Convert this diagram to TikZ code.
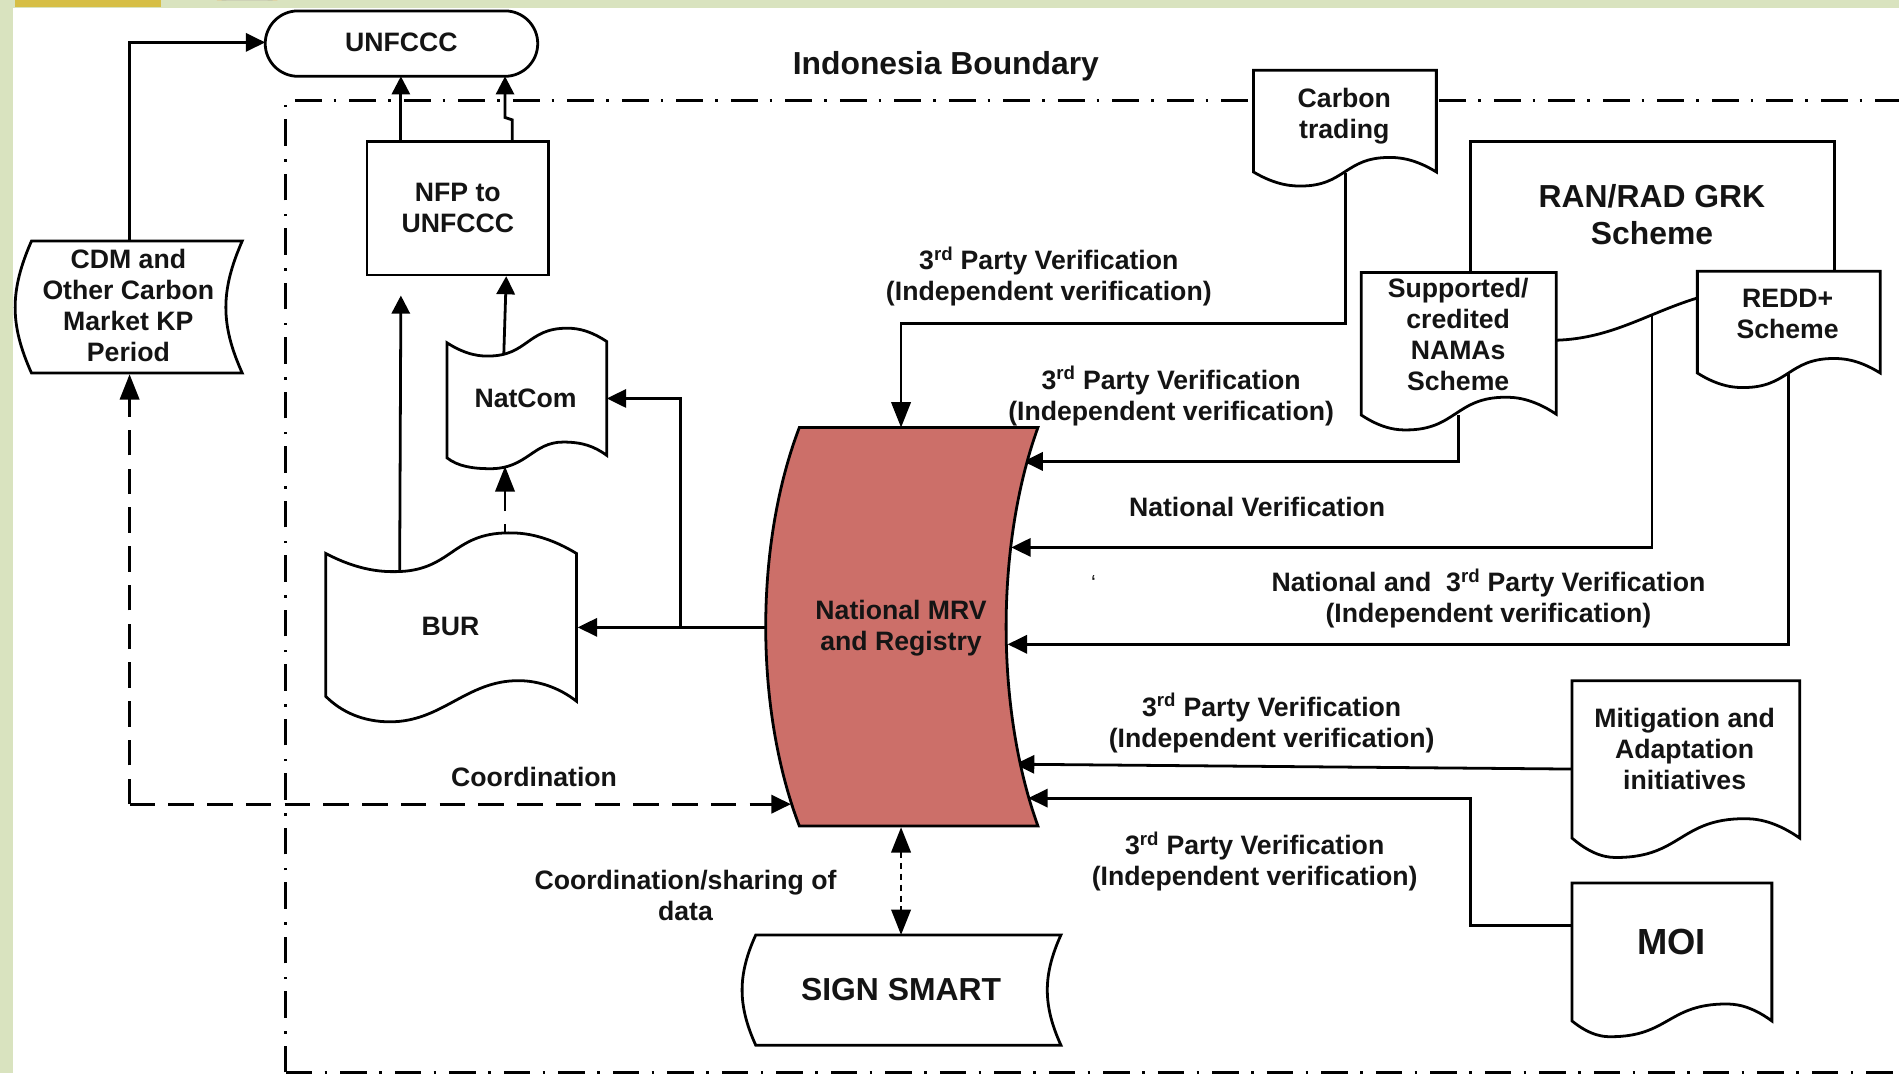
\documentclass[tikz,border=0pt]{standalone}
\usepackage{fontspec}
\setmainfont{Liberation Sans}
\usetikzlibrary{arrows.meta}
\definecolor{bgreen}{HTML}{D9E3BF}
\definecolor{mrvred}{HTML}{CC6F69}
\definecolor{logoy}{HTML}{D6BE45}
\newcommand{\wv}[8]{(#1,#2) .. controls ({#1+.5*(#3-#1)},#4) and ({#3-.15*(#3-#1)},#4) .. (#3,#4) .. controls ({#3+.5*(#5-#3)},#4) and ({#5-.5*(#5-#3)},#6) .. (#5,#6) .. controls ({#5+.15*(#7-#5)},#6) and ({#7-.5*(#7-#5)},#6) .. (#7,#8)}
\tikzset{
  lab/.style={font=\fontsize{22}{25.6}\selectfont\bfseries,align=center,inner sep=0pt,text=black!92},
  biglab/.style={font=\fontsize{26.3}{30.5}\selectfont\bfseries,align=center,inner sep=0pt,text=black!92},
  shapeline/.style={draw=black,line width=2.3pt,fill=white,line join=miter},
  conn/.style={draw=black,line width=2.3pt},
  arr/.style={conn,-{Triangle[length=16pt,width=15pt]}},
  arrshort/.style={conn,-{Triangle[length=15pt,width=15pt]}},
  arrlong/.style={conn,-{Triangle[length=21pt,width=16pt]}},
  dashconn/.style={arr,dash pattern=on 21pt off 11pt},
  dashlong/.style={arrlong,dash pattern=on 21pt off 11pt},
  dotconn/.style={conn,{Triangle[length=21pt,width=16pt]}-{Triangle[length=21pt,width=16pt]},dash pattern=on 5pt off 4pt},
  boundary/.style={draw=black,line width=2.3pt,dash pattern=on 22pt off 10pt on 2pt off 11pt}
}
\begin{document}
\begin{tikzpicture}[x=1pt,y=-1pt]
\useasboundingbox (0,0) rectangle (1568,886);
% page background
\fill[white] (0,0) rectangle (1568,886);
\fill[bgreen] (0,0) rectangle (1568,6.6);
\fill[bgreen] (0,0) rectangle (11,886);
\fill[logoy] (12.4,0) rectangle (133,5.5);
\fill[orange!85!red] (179,0) arc[start angle=180,end angle=360,x radius=25,y radius=5.6] -- cycle;
\fill[cyan!70!blue!80!white] (183,0) arc[start angle=180,end angle=360,x radius=21,y radius=4.2] -- cycle;
\fill[white] (187,0) arc[start angle=180,end angle=360,x radius=17,y radius=2.8] -- cycle;
% boundary
\draw[boundary] (236,885.5) -- (236,83) -- (1568,83);
\draw[boundary] (236,885.5) -- (1568,885.5);

% anchor points on the shapes
\coordinate (cdmTop) at (107,199);
\coordinate (cdmBot) at (107,309);
\coordinate (unfL) at (219,35);
\coordinate (cdmBend) at (107,35);
\coordinate (dashBend) at (107,664);
\coordinate (mrvDash) at (653,664);
\coordinate (unfB1) at (331,63);
\coordinate (unfB2) at (417,63);
\coordinate (nfpT1) at (331,117);
\coordinate (nfpT2) at (423,117);
\coordinate (jog1) at (423,99);
\coordinate (jog2) at (417,97);
\coordinate (nfpB) at (418,228);
\coordinate (natTop) at (416,292);
\coordinate (burTop1) at (330,472);
\coordinate (burUp) at (331,244);
\coordinate (burTop2) at (417,440);
\coordinate (natBot) at (417,385);
\coordinate (natR) at (501,329);
\coordinate (branch) at (562,518);
\coordinate (branchUp) at (562,329);
\coordinate (mrvL) at (632,518);
\coordinate (burR) at (477,518);
\coordinate (mrvT) at (744,353);
\coordinate (mrvB) at (744,683);
\coordinate (ssT) at (744,772);
\coordinate (ctOut) at (1111,143);
\coordinate (ctBend) at (744,267);
\coordinate (namaOut) at (1204,343);
\coordinate (mrv1) at (845,381);
\coordinate (ranOut) at (1364,261);
\coordinate (mrv2) at (835,452);
\coordinate (reddOut) at (1477,308);
\coordinate (mrv3) at (832,532);
\coordinate (mitL) at (1298,635);
\coordinate (mrv4) at (838,631);
\coordinate (moiL) at (1298,764);
\coordinate (moiBend) at (1214,659);
\coordinate (mrv5) at (849,659);

% connectors
\draw[arr] (cdmTop) -- (cdmBend) -- (unfL);
\draw[arrshort] (nfpT1) -- (unfB1);
\draw[arrshort] (nfpT2) -- (jog1) -- (jog2) -- (unfB2);
\draw[arrshort] (natTop) -- (nfpB);
\draw[arrshort] (burTop1) -- (burUp);
\draw[dashlong,dash phase=14pt] (burTop2) -- (natBot);
\draw[arr] (mrvL) -- (burR);
\draw[arr] (branch) -- (branchUp) -- (natR);
\draw[arrlong] (ctOut) -- (ctBend -| ctOut) -- (ctBend) -- (mrvT);
\draw[arr] (namaOut) |- (mrv1);
\draw[arr] (ranOut) |- (mrv2);
\draw[arr] (reddOut) |- (mrv3);
\draw[arr] (mitL) -- (mrv4);
\draw[arr] (moiL) -| (moiBend) -- (mrv5);
\draw[dashlong] (dashBend) -- (cdmBot);
\draw[dashconn] (dashBend) -- (mrvDash);
\draw[dotconn] (mrvB) -- (ssT);

% shapes
\node[shapeline,rounded corners=27pt,minimum width=225pt,minimum height=54pt,inner sep=0pt,lab] (unfccc) at (331.5,36) {\raisebox{2pt}{UNFCCC}};
\node[shapeline,minimum width=150pt,minimum height=110pt,inner sep=0pt,lab] (nfp) at (378,172) {NFP to\\UNFCCC};
\draw[shapeline] (26,199) -- (200,199) .. controls (182,240) and (182,268) .. (200,308) -- (26,308) .. controls (8,268) and (8,240) .. cycle;
\draw[shapeline] \wv{369}{283}{403}{294}{468}{271}{501}{282} -- (501,376) .. controls (490,368) and (480,365) .. (465,365) .. controls (440,365) and (435,387) .. (405,387) .. controls (390,387) and (378,385) .. (369,378) -- cycle;
\draw[shapeline] \wv{269}{457}{326}{472}{420}{440}{476}{457} -- (476,579) .. controls (462,568) and (445,562) .. (428,562) .. controls (385,562) and (365,596) .. (322,596) .. controls (300,596) and (282,588) .. (269,575) -- cycle;
\draw[shapeline,fill=mrvred] (660,353) -- (857,353) .. controls (822,450) and (822,585) .. (857,682) -- (660,682) .. controls (623,585) and (623,450) .. cycle;
\draw[shapeline] (624,772) -- (876,772) .. controls (861,805) and (861,830) .. (876,863) -- (624,863) .. controls (609,830) and (609,805) .. cycle;
\draw[shapeline] \wv{1035}{142}{1074}{153.6}{1147}{130}{1186}{142} -- (1186,58) -- (1035,58) -- cycle;
% RAN/RAD scheme, partly covered by the two schemes in front of it
\draw[conn] (1214,230) -- (1214,117) -- (1514.6,117) -- (1514.6,230);
\draw[conn] (1280,281) .. controls (1330,281) and (1360,258) .. (1405,245);
\draw[shapeline] \wv{1124}{342.7}{1161}{355}{1243}{328}{1285}{342} -- (1285,225) -- (1124,225) -- cycle;
\draw[shapeline] \wv{1401.5}{308}{1439.5}{320}{1514}{296}{1552.5}{308} -- (1552.5,224) -- (1401.5,224) -- cycle;
\draw[shapeline] \wv{1298}{692}{1335}{708}{1440}{676}{1486}{692} -- (1486,562) -- (1298,562) -- cycle;
\draw[shapeline] \wv{1298}{843}{1330}{856}{1425}{829}{1463}{843} -- (1463,729) -- (1298,729) -- cycle;

% texts
\node[biglab] (title) at (781,55) {Indonesia Boundary};
\node[lab] (cdm) at (106,252.5) {CDM and\\Other Carbon\\Market KP\\Period};
\node[lab] (natcom) at (434,328.5) {NatCom};
\node[lab] (bur) at (372,517) {BUR};
\node[lab] (mrv) at (744,518.5) {National MRV\\and Registry};
\node[lab] (carbon) at (1110,96) {Carbon\\trading};
\node[biglab] (ran) at (1364,177) {RAN/RAD GRK\\Scheme};
\node[lab] (nama) at (1204,276) {Supported/\\credited\\NAMAs\\Scheme};
\node[lab] (redd) at (1476,259) {REDD+\\Scheme};
\node[lab] (mit) at (1391,618.5) {Mitigation and\\Adaptation\\initiatives};
\node[biglab,font=\fontsize{30}{34}\selectfont\bfseries] (moi) at (1380,778) {MOI};
\node[biglab] (sign) at (744,817) {SIGN SMART};
\node[lab] (v1) at (866,228) {3\textsuperscript{rd} Party Verification\\(Independent verification)};
\node[lab] (v2) at (967,327) {3\textsuperscript{rd} Party Verification\\(Independent verification)};
\node[lab] (v3) at (1038,419) {National Verification};
\node[lab] (v4) at (1229,494.5) {National and\ \ 3\textsuperscript{rd} Party Verification\\(Independent verification)};
\node[lab] (v5) at (1050,597) {3\textsuperscript{rd} Party Verification\\(Independent verification)};
\node[lab] (v6) at (1036,711) {3\textsuperscript{rd} Party Verification\\(Independent verification)};
\node[lab] (coord) at (441,641.5) {Coordination};
\node[lab] (share) at (566,739) {Coordination/sharing of\\data};
\node[lab,font=\fontsize{18}{18}\selectfont] (tick) at (903,481) {`};
\end{tikzpicture}
\end{document}
